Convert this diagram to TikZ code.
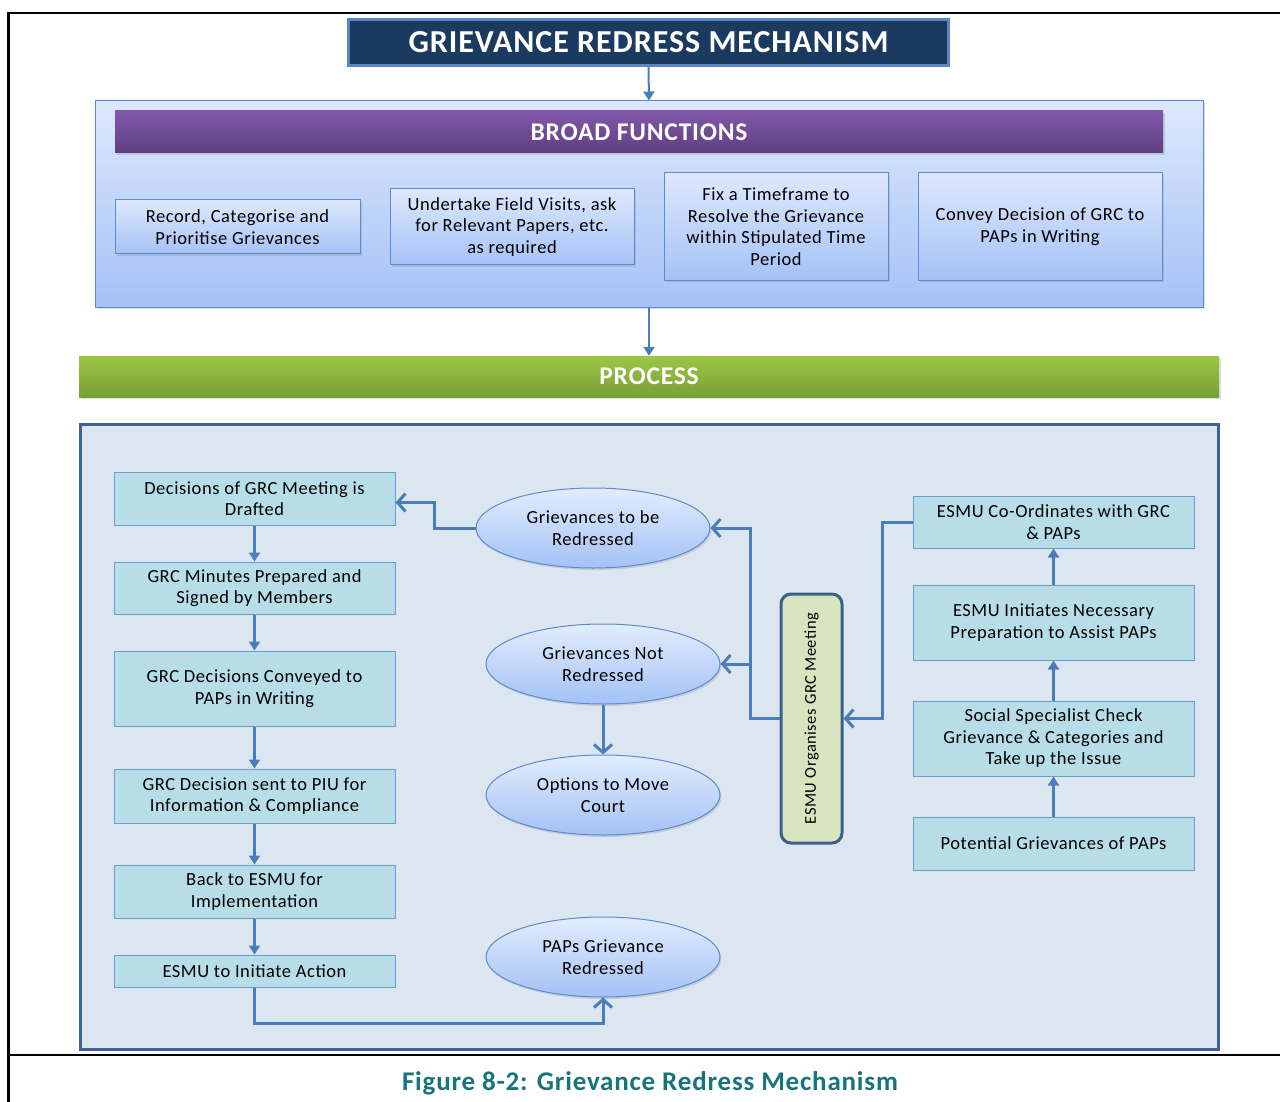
\documentclass[tikz,border=0pt]{standalone}
\usepackage{fontspec}
\setmainfont{Carlito}[LetterSpace=3]
\usetikzlibrary{arrows.meta,shadows,shapes.geometric}
\definecolor{navy}{HTML}{1B3A5F}
\definecolor{navyborder}{HTML}{5A86C5}
\definecolor{bftop}{HTML}{DDE8FC}
\definecolor{bfbot}{HTML}{A5C2F7}
\definecolor{bfborder}{HTML}{5B8BD0}
\definecolor{purtop}{HTML}{8259AA}
\definecolor{purbot}{HTML}{5E3E80}
\definecolor{grntop}{HTML}{9DC648}
\definecolor{grnbot}{HTML}{76A132}
\definecolor{ppfill}{HTML}{DCE6F1}
\definecolor{ppborder}{HTML}{3C6296}
\definecolor{lbfill}{HTML}{B7DDE8}
\definecolor{lbborder}{HTML}{6C9BD6}
\definecolor{eltop}{HTML}{E2ECFD}
\definecolor{elbot}{HTML}{A4C2F6}
\definecolor{vfill}{HTML}{D7E4BD}
\definecolor{vborder}{HTML}{3D5F8C}
\definecolor{conncol}{HTML}{4A7EBB}
\definecolor{capcol}{HTML}{17747A}
\newcommand\bodyfs{\fontsize{18.5}{21.5}\selectfont}
\tikzset{
  shd/.style={drop shadow={opacity=0.25,shadow xshift=1.5pt,shadow yshift=-2pt}},
  fbox/.style={draw=bfborder,line width=1pt,top color=bftop,bottom color=bfbot,
    inner sep=0pt,align=center,font=\bodyfs,shd},
  lbox/.style={draw=lbborder,line width=1pt,fill=lbfill,minimum width=281pt,
    inner sep=0pt,align=center,font=\bodyfs},
  ell/.style={ellipse,draw=bfborder,line width=1pt,top color=eltop,bottom color=elbot,
    minimum width=234pt,minimum height=80pt,inner sep=0pt,align=center,font=\bodyfs,shd},
  conn/.style={draw=conncol,line width=3pt},
  openarr/.style={-{Straight Barb[length=8pt,width=18pt,line width=3pt]}},
  filarr/.style={-{Triangle[length=9pt,width=11pt]}},
}
\begin{document}
\begin{tikzpicture}[x=1pt,y=-1pt]
\useasboundingbox (0,0) rectangle (1280,1102);
% outer frame
\draw[black,line width=2.2pt] (1280,13) -- (8.5,13) -- (8.5,1102);
\draw[black,line width=2.2pt] (8.5,1055) -- (1280,1055);

% title
\node[draw=navyborder,line width=2.5pt,fill=navy,minimum width=600pt,minimum height=46pt,
  inner sep=0pt,text=white,font=\fontsize{32}{34}\selectfont\bfseries,shd] (title) at (648.5,42.5)
  {GRIEVANCE REDRESS MECHANISM};

% broad functions panel
\node[draw=bfborder,line width=1pt,top color=bftop,bottom color=bfbot,minimum width=1108pt,
  minimum height=206pt,inner sep=0pt,shd] (bf) at (649,204) {};
\node[top color=purtop,bottom color=purbot,minimum width=1048pt,minimum height=42pt,inner sep=0pt,
  text=white,font=\fontsize{25.5}{28}\selectfont\bfseries,shd] (bfbar) at (639,132) {BROAD FUNCTIONS};
\node[fbox,minimum width=245pt,minimum height=54pt] (b1) at (237.5,227)
  {Record, Categorise and\\Prioritise Grievances};
\node[fbox,minimum width=244pt,minimum height=76pt] (b2) at (512,227)
  {Undertake Field Visits, ask\\for Relevant Papers, etc.\\as required};
\node[fbox,minimum width=224pt,minimum height=107pt] (b3) at (776,226.5)
  {Fix a Timeframe to\\Resolve the Grievance\\within Stipulated Time\\Period};
\node[fbox,minimum width=244pt,minimum height=107pt] (b4) at (1040,226.5)
  {Convey Decision of GRC to\\PAPs in Writing};

% process bar
\node[top color=grntop,bottom color=grnbot,minimum width=1140pt,minimum height=41pt,inner sep=0pt,
  text=white,font=\fontsize{25.5}{28}\selectfont\bfseries,shd] (pbar) at (649,376.5) {PROCESS};

\draw[conncol,line width=2pt,filarr] (title.south) -- (bf.north);
\draw[conncol,line width=2pt,filarr] (bf.south) -- (pbar.north);

% process panel
\node[draw=ppborder,line width=3pt,fill=ppfill,minimum width=1138pt,minimum height=625pt,
  inner sep=0pt] (pp) at (649,736.5) {};

% left column
\node[lbox,minimum height=53pt] (l1) at (254.5,498.5) {Decisions of GRC Meeting is\\Drafted};
\node[lbox,minimum height=52pt] (l2) at (254.5,588) {GRC Minutes Prepared and\\Signed by Members};
\node[lbox,minimum height=75pt] (l3) at (254.5,688.5) {GRC Decisions Conveyed to\\PAPs in Writing};
\node[lbox,minimum height=54pt] (l4) at (254.5,796) {GRC Decision sent to PIU for\\Information \& Compliance};
\node[lbox,minimum height=53pt] (l5) at (254.5,891.5) {Back to ESMU for\\Implementation};
\node[lbox,minimum height=32pt] (l6) at (254.5,971) {ESMU to Initiate Action};

% ellipses
\node[ell] (e1) at (593,528) {Grievances to be\\Redressed};
\node[ell] (e2) at (603,664) {Grievances Not\\Redressed};
\node[ell] (e3) at (603,795) {Options to Move\\Court};
\node[ell] (e4) at (603,957) {PAPs Grievance\\Redressed};

% vertical box
\node[draw=vborder,line width=3pt,fill=vfill,rounded corners=10pt,minimum width=61pt,
  minimum height=249pt,inner sep=0pt] (vert) at (811.5,718.5) {};
\node[rotate=90,font=\fontsize{16.5}{19}\selectfont] (vtext) at (vert.center) {ESMU Organises GRC Meeting};

% right column
\node[lbox,minimum height=52pt] (r1) at (1053.5,522) {ESMU Co-Ordinates with GRC\\\& PAPs};
\node[lbox,minimum height=75pt] (r2) at (1053.5,622.5) {ESMU Initiates Necessary\\Preparation to Assist PAPs};
\node[lbox,minimum height=75pt] (r3) at (1053.5,738.5) {Social Specialist Check\\Grievance \& Categories and\\Take up the Issue};
\node[lbox,minimum height=53pt] (r4) at (1053.5,843.5) {Potential Grievances of PAPs};

% connectors
\draw[conn,filarr] (l1.south) -- (l2.north);
\draw[conn,filarr] (l2.south) -- (l3.north);
\draw[conn,filarr] (l3.south) -- (l4.north);
\draw[conn,filarr] (l4.south) -- (l5.north);
\draw[conn,filarr] (l5.south) -- (l6.north);

\draw[conn,filarr] (r4.north) -- (r3.south);
\draw[conn,filarr] (r3.north) -- (r2.south);
\draw[conn,filarr] (r2.north) -- (r1.south);

\draw[conn,openarr] (r1.west) -- ++(-30,0) |- (vert.east);
\coordinate (j) at (750,718.5);
\draw[conn,openarr] (vert.west) -- (j) |- (e1.east);
\draw[conn,openarr] (j |- e2.east) -- (e2.east);
\draw[conn,openarr] (e1.west) -- ++(-41,0) |- ([yshift=-4pt]l1.east);
\draw[conn,openarr] (e2.south) -- (e3.north);
\draw[conn,openarr] (l6.south) -- ++(0,36) -| (e4.south);

% caption
\node[text=capcol,font=\fontsize{27}{30}\selectfont\bfseries] (cap) at (650,1083)
  {Figure 8-2: Grievance Redress Mechanism};
\end{tikzpicture}
\end{document}
